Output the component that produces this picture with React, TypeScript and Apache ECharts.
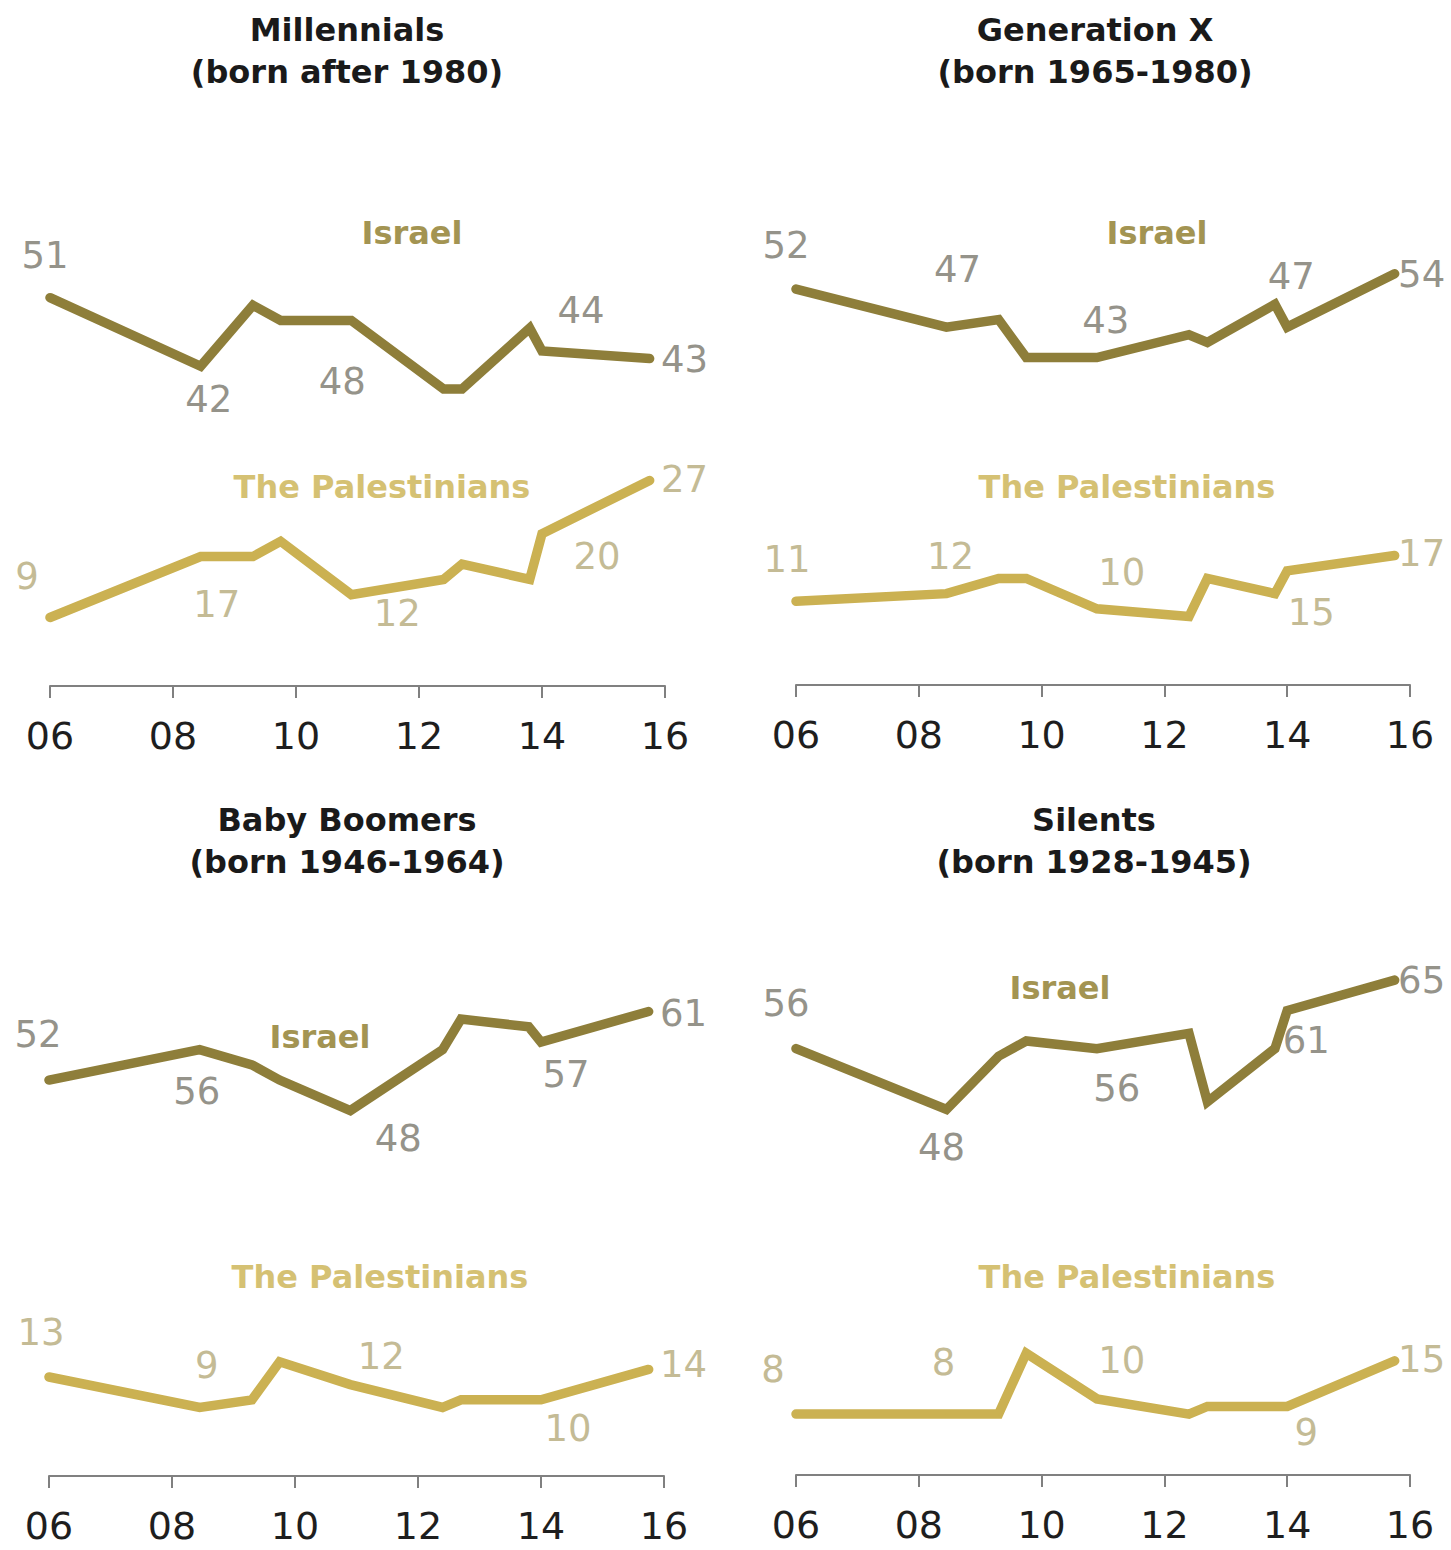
import React, { useEffect, useRef } from 'react';
import * as echarts from 'echarts';

// ---------- DATA ----------
const surveyYears = [6.0, 8.45, 9.3, 9.75, 10.9, 12.4, 12.7, 13.8, 14.0, 15.75];
const xTickLabels = ['06', '08', '10', '12', '14', '16'];

const millennialsIsrael = [51, 42, 50, 48, 48, 39, 39, 47, 44, 43];
const millennialsPalestinians = [9, 17, 17, 19, 12, 14, 16, 14, 20, 27];
const genXIsrael = [52, 47, 48, 43, 43, 46, 45, 50, 47, 54];
const genXPalestinians = [11, 12, 14, 14, 10, 9, 14, 12, 15, 17];
const boomersIsrael = [52, 56, 54, 52, 48, 56, 60, 59, 57, 61];
const boomersPalestinians = [13, 9, 10, 15, 12, 9, 10, 10, 10, 14];
const silentsIsrael = [56, 48, 55, 57, 56, 58, 49, 56, 61, 65];
const silentsPalestinians = [8, 8, 8, 16, 10, 8, 9, 9, 9, 15];

const panelTitles = [
  ['Millennials', '(born after 1980)'],
  ['Generation X', '(born 1965-1980)'],
  ['Baby Boomers', '(born 1946-1964)'],
  ['Silents', '(born 1928-1945)'],
];
const seriesNames = ['Israel', 'The Palestinians'];
const labelledIndices = [0, 1, 4, 8, 9];

const panelData = [
  [millennialsIsrael, millennialsPalestinians],
  [genXIsrael, genXPalestinians],
  [boomersIsrael, boomersPalestinians],
  [silentsIsrael, silentsPalestinians],
];

// ---------- LAYOUT / STYLE ----------
const panelLayout = [
  { grid: { left: 50, top: 153, width: 615, height: 533 }, titleX: 347, titleY: [30, 72], nameXY: [[412, 233], [382, 487]] },
  { grid: { left: 796, top: 152, width: 614, height: 533 }, titleX: 1095, titleY: [30, 72], nameXY: [[1157, 233], [1127, 487]] },
  { grid: { left: 49, top: 943, width: 615, height: 533 }, titleX: 347, titleY: [820, 862], nameXY: [[320, 1037], [380, 1277]] },
  { grid: { left: 796, top: 942, width: 614, height: 533 }, titleX: 1094, titleY: [820, 862], nameXY: [[1060, 988], [1127, 1277]] },
];

// label center offsets relative to the point, per panel, per series, per labelled index
const labelOffsets = [
  [
    [[-5, -42], [8, 33], [-9, 61], [39, -40], [35, 1]],
    [[-23, -41], [16, 48], [46, 19], [55, 23], [35, -1]],
  ],
  [
    [[-10, -44], [11, -58], [9, -37], [4, -51], [27, 1]],
    [[-9, -42], [4, -37], [25, -36], [24, 42], [27, -2]],
  ],
  [
    [[-11, -46], [-3, 42], [48, 28], [25, 33], [35, 2]],
    [[-8, -45], [7, -42], [31, -28], [27, 29], [35, -5]],
  ],
  [
    [[-10, -45], [-5, 38], [20, 40], [19, 30], [27, 0]],
    [[-23, -45], [-3, -52], [25, -38], [19, 26], [27, -1]],
  ],
];

const lineColors = ['#8e7e3a', '#cbb152'];
const nameColors = ['#a39452', '#d5c173'];
const valueLabelColors = ['#95938a', '#c4bb95'];

export default function App() {
  const ref = useRef<HTMLDivElement>(null);

  useEffect(() => {
    if (!ref.current) return;
    const chart = echarts.init(ref.current, undefined, { renderer: 'svg' });

    const grids: any[] = [];
    const xAxes: any[] = [];
    const yAxes: any[] = [];
    const series: any[] = [];
    const graphics: any[] = [];

    panelLayout.forEach((p, pi) => {
      grids.push({ ...p.grid, containLabel: false, outerBoundsMode: 'none' });
      xAxes.push({
        type: 'value',
        gridIndex: pi,
        min: 6,
        max: 16,
        interval: 2,
        axisLine: { show: true, lineStyle: { color: '#808080', width: 2 } },
        axisTick: { show: true, length: 12, lineStyle: { color: '#808080', width: 2 } },
        splitLine: { show: false },
        axisLabel: {
          margin: 31,
          color: '#1e1e1e',
          fontSize: 38,
          fontFamily: 'DejaVu Sans',
          formatter: (v: number) => xTickLabels[Math.round((v - 6) / 2)],
        },
      });
      yAxes.push({ type: 'value', gridIndex: pi, min: 0, max: 70, show: false });

      panelData[pi].forEach((vals, si) => {
        series.push({
          type: 'line',
          name: seriesNames[si],
          xAxisIndex: pi,
          yAxisIndex: pi,
          symbol: 'circle',
          symbolSize: 2,
          showSymbol: true,
          lineStyle: { color: lineColors[si], width: 9.5, cap: 'round', join: 'miter' },
          itemStyle: { color: lineColors[si] },
          emphasis: { disabled: true },
          data: surveyYears.map((x, i) => {
            const li = labelledIndices.indexOf(i);
            const item: any = { value: [x, vals[i]] };
            if (li >= 0) {
              item.label = {
                show: true,
                position: 'inside',
                offset: labelOffsets[pi][si][li],
                formatter: () => String(vals[i]),
                color: valueLabelColors[si],
                fontSize: 37,
                fontFamily: 'DejaVu Sans',
              };
            } else {
              item.label = { show: false };
            }
            return item;
          }),
        });
        graphics.push({
          type: 'text',
          x: p.nameXY[si][0],
          y: p.nameXY[si][1],
          style: {
            text: seriesNames[si],
            fill: nameColors[si],
            font: 'bold 32px "DejaVu Sans"',
            textAlign: 'center',
            textVerticalAlign: 'middle',
          },
        });
      });

      panelTitles[pi].forEach((t, ti) => {
        graphics.push({
          type: 'text',
          x: p.titleX,
          y: p.titleY[ti],
          style: {
            text: t,
            fill: '#1a1a1a',
            font: 'bold 32px "DejaVu Sans"',
            textAlign: 'center',
            textVerticalAlign: 'middle',
          },
        });
      });
    });

    chart.setOption({
      animation: false,
      backgroundColor: '#ffffff',
      grid: grids,
      xAxis: xAxes,
      yAxis: yAxes,
      series,
      graphic: { elements: graphics },
    });

    return () => chart.dispose();
  }, []);

  return (
    <div
      ref={ref}
      style={{ position: 'absolute', left: 0, top: 0, width: 1451, height: 1550 }}
    />
  );
}
